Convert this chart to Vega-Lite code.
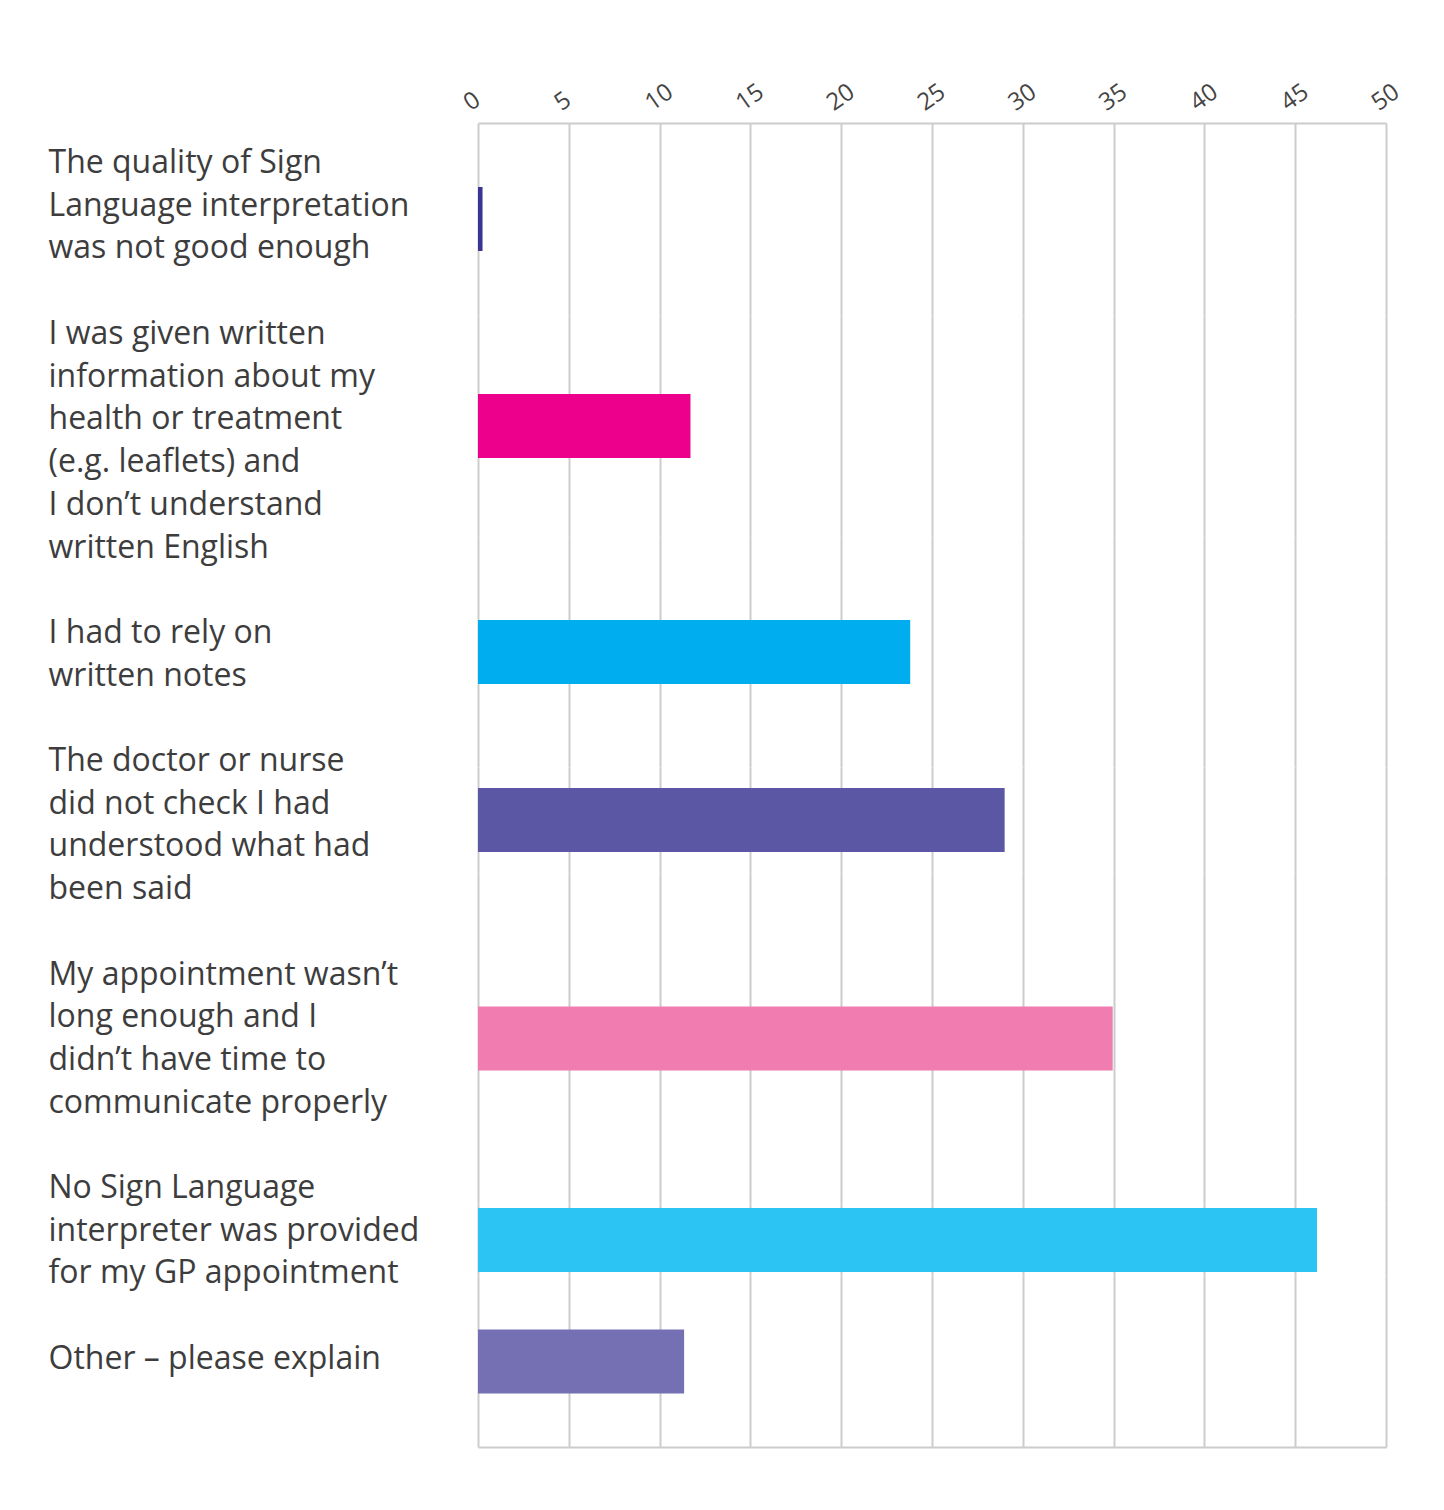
{
  "$schema": "https://vega.github.io/schema/vega-lite/v6.json",
  "autosize": {"type": "pad"},
  "padding": {"left": 48, "top": 79, "right": 10, "bottom": 10},
  "background": "white",
  "data": {
    "values": [
      {"label": "The quality of Sign|Language interpretation|was not good enough", "value": 0.25},
      {"label": "I was given written|information about my|health or treatment|(e.g. leaflets) and|I don’t understand|written English", "value": 11.7},
      {"label": "I had to rely on|written notes", "value": 23.8},
      {"label": "The doctor or nurse|did not check I had|understood what had|been said", "value": 29.0},
      {"label": "My appointment wasn’t|long enough and I|didn’t have time to|communicate properly", "value": 34.95},
      {"label": "No Sign Language|interpreter was provided|for my GP appointment", "value": 46.2},
      {"label": "Other – please explain", "value": 11.35}
    ]
  },
  "spacing": 0,
  "bounds": "flush",
  "resolve": {"scale": {"y": "independent"}},
  "vconcat": [
    {
      "width": 908, "height": 192,
      "transform": [{"filter": "indexof(datum.label, 'The quality') == 0"}],
      "mark": {"type": "bar", "height": 64, "color": "#3a3592"},
      "encoding": {
        "y": {"field": "label", "type": "nominal", "axis": {"labelOffset": -56}},
        "x": {"field": "value", "type": "quantitative", "scale": {"domain": [0, 50], "nice": false},
          "axis": {"orient": "top", "values": [0, 5, 10, 15, 20, 25, 30, 35, 40, 45, 50], "domain": true, "labels": true}}
      }
    },
    {
      "width": 908, "height": 222,
      "transform": [{"filter": "indexof(datum.label, 'I was given') == 0"}],
      "mark": {"type": "bar", "height": 64, "color": "#ec008c"},
      "encoding": {
        "y": {"field": "label", "type": "nominal", "axis": {"labelOffset": -92}},
        "x": {"field": "value", "type": "quantitative", "scale": {"domain": [0, 50], "nice": false},
          "axis": {"values": [0, 5, 10, 15, 20, 25, 30, 35, 40, 45, 50]}}
      }
    },
    {
      "width": 908, "height": 230,
      "transform": [{"filter": "indexof(datum.label, 'I had to') == 0"}],
      "mark": {"type": "bar", "height": 64, "color": "#00aeef"},
      "encoding": {
        "y": {"field": "label", "type": "nominal", "axis": {"labelOffset": -19}},
        "x": {"field": "value", "type": "quantitative", "scale": {"domain": [0, 50], "nice": false},
          "axis": {"values": [0, 5, 10, 15, 20, 25, 30, 35, 40, 45, 50]}}
      }
    },
    {
      "width": 908, "height": 106,
      "transform": [{"filter": "indexof(datum.label, 'The doctor') == 0"}],
      "mark": {"type": "bar", "height": 64, "color": "#5c57a4"},
      "encoding": {
        "y": {"field": "label", "type": "nominal", "axis": {"labelOffset": -59}},
        "x": {"field": "value", "type": "quantitative", "scale": {"domain": [0, 50], "nice": false},
          "axis": {"values": [0, 5, 10, 15, 20, 25, 30, 35, 40, 45, 50]}}
      }
    },
    {
      "width": 908, "height": 331,
      "transform": [{"filter": "indexof(datum.label, 'My appointment') == 0"}],
      "mark": {"type": "bar", "height": 64, "color": "#f07cb0"},
      "encoding": {
        "y": {"field": "label", "type": "nominal", "axis": {"labelOffset": -64}},
        "x": {"field": "value", "type": "quantitative", "scale": {"domain": [0, 50], "nice": false},
          "axis": {"values": [0, 5, 10, 15, 20, 25, 30, 35, 40, 45, 50]}}
      }
    },
    {
      "width": 908, "height": 72,
      "transform": [{"filter": "indexof(datum.label, 'No Sign') == 0"}],
      "mark": {"type": "bar", "height": 64, "color": "#2bc4f3"},
      "encoding": {
        "y": {"field": "label", "type": "nominal", "axis": {"labelOffset": -52}},
        "x": {"field": "value", "type": "quantitative", "scale": {"domain": [0, 50], "nice": false},
          "axis": {"values": [0, 5, 10, 15, 20, 25, 30, 35, 40, 45, 50]}}
      }
    },
    {
      "width": 908, "height": 171,
      "transform": [{"filter": "indexof(datum.label, 'Other') == 0"}],
      "mark": {"type": "bar", "height": 64, "color": "#7570b3"},
      "encoding": {
        "y": {"field": "label", "type": "nominal", "axis": {"labelOffset": -3}},
        "x": {"field": "value", "type": "quantitative", "scale": {"domain": [0, 50], "nice": false},
          "axis": {"orient": "bottom", "values": [0, 5, 10, 15, 20, 25, 30, 35, 40, 45, 50], "domain": true}}
      }
    }
  ],
  "config": {
    "view": {"stroke": null},
    "axisY": {
      "title": null,
      "ticks": false,
      "domain": false,
      "grid": false,
      "labelAlign": "left",
      "labelBaseline": "middle",
      "labelPadding": 430,
      "labelLimit": 0,
      "labelFont": "Open Sans",
      "labelFontSize": 32,
      "labelLineHeight": 42.7,
      "labelColor": "#3d3d3d",
      "labelExpr": "split(datum.label, '|')"
    },
    "axisX": {
      "title": null,
      "ticks": false,
      "domain": false,
      "labels": false,
      "grid": true,
      "gridColor": "#cccccc",
      "gridWidth": 2,
      "domainColor": "#cccccc",
      "domainWidth": 2,
      "labelAngle": -35,
      "labelFont": "Open Sans",
      "labelFontSize": 24,
      "labelColor": "#444444",
      "labelPadding": 8,
      "labelOffset": -5
    }
  }
}
